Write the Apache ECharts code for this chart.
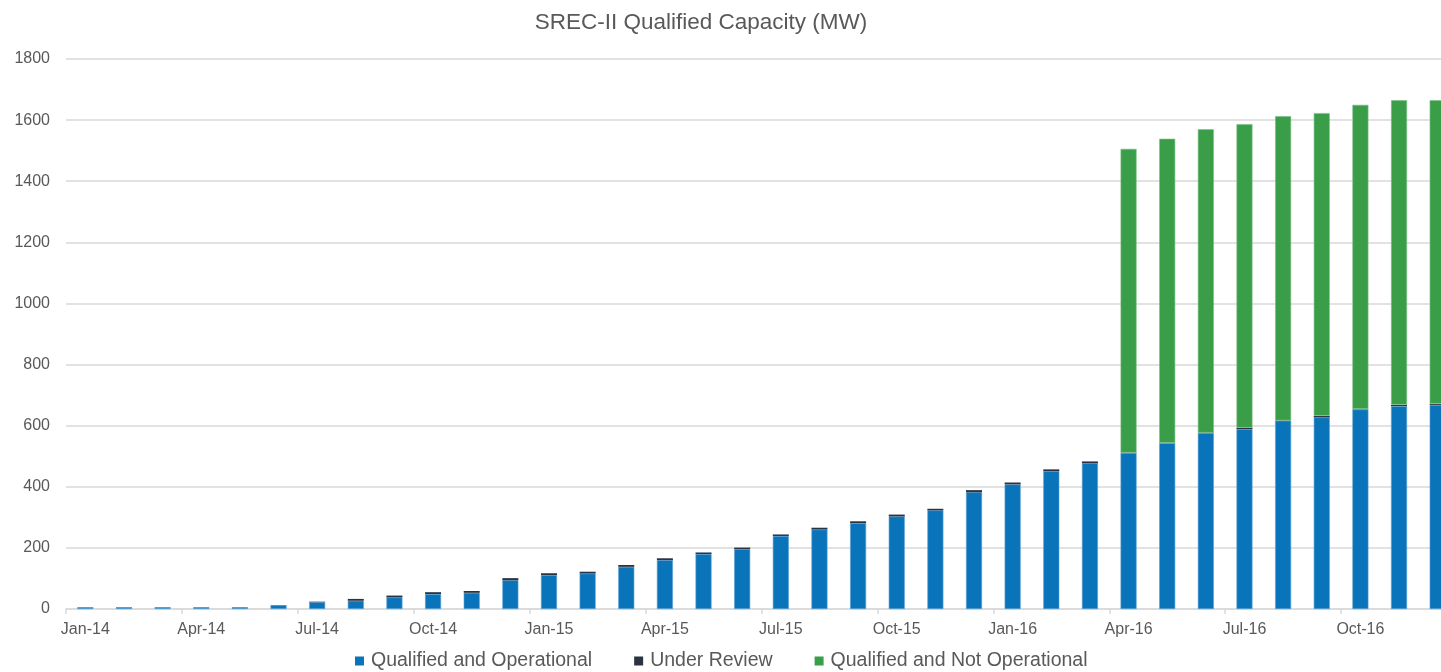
<!DOCTYPE html>
<html>
<head>
<meta charset="utf-8">
<script src="https://cdn.jsdelivr.net/npm/echarts@6/dist/echarts.min.js"></script>
<style>
html,body{margin:0;padding:0;background:#fff;}
#chart{width:1441px;height:672px;}
</style>
</head>
<body>
<div id="chart"></div>
<script>
const categories = [
  'Jan-14','Feb-14','Mar-14','Apr-14','May-14','Jun-14','Jul-14','Aug-14','Sep-14','Oct-14','Nov-14','Dec-14',
  'Jan-15','Feb-15','Mar-15','Apr-15','May-15','Jun-15','Jul-15','Aug-15','Sep-15','Oct-15','Nov-15','Dec-15',
  'Jan-16','Feb-16','Mar-16','Apr-16','May-16','Jun-16','Jul-16','Aug-16','Sep-16','Oct-16','Nov-16','Dec-16'
];
const qualifiedOperational = [
  5, 5, 5, 5, 5, 12, 22, 27, 38, 49, 53, 94,
  111, 116, 138, 160, 180, 196, 239, 260, 281, 303, 323, 382,
  408, 451, 477, 511, 543, 576, 589, 616, 627, 653, 664, 668
];
const underReview = [
  1, 1, 1, 1, 1, 1, 2, 6, 6, 6, 6, 7,
  6, 6, 6, 6, 5, 5, 5, 6, 6, 6, 5, 7,
  6, 6, 6, 1, 1, 1, 4, 1, 5, 1, 4, 4
];
const qualifiedNotOperational = [
  0, 0, 0, 0, 0, 0, 0, 0, 0, 0, 0, 0,
  0, 0, 0, 0, 0, 0, 0, 0, 0, 0, 0, 0,
  0, 0, 0, 994, 995, 993, 994, 996, 991, 996, 997, 993
];
const seriesNames = ['Qualified and Operational', 'Under Review', 'Qualified and Not Operational'];
const titleText = 'SREC-II Qualified Capacity (MW)';

const colors = ['#0a74bb', '#2b3342', '#3a9e48'];
const borders = ['#5a9fd3', '#2b3342', '#7cc086'];
const borderWidths = [0.6, 0, 0.6];
const chart = echarts.init(document.getElementById('chart'), null, {renderer: 'canvas'});
const dataSets = [qualifiedOperational, underReview, qualifiedNotOperational]
  .map(arr => arr.map(v => (v === 0 ? '-' : v)));
chart.setOption({
  animation: false,
  backgroundColor: '#ffffff',
  title: {
    text: titleText,
    left: 696,
    top: 6,
    textAlign: 'center',
    textStyle: {fontFamily: 'Liberation Sans, Arial, sans-serif', fontSize: 22.5, fontWeight: 'normal', color: '#595959'}
  },
  legend: {
    data: seriesNames,
    top: 646,
    left: 350,
    icon: 'rect',
    itemWidth: 9,
    itemHeight: 9,
    itemGap: 42,
    itemStyle: {borderWidth: 0},
    textStyle: {fontFamily: 'Liberation Sans, Arial, sans-serif', fontSize: 19.5, color: '#595959', padding: [0, 0, 0, 2]}
  },
  grid: {left: 66, top: 59, bottom: 63, width: 1391, containLabel: false, outerBoundsMode: 'none'},
  xAxis: {
    type: 'category',
    data: categories,
    boundaryGap: true,
    axisLine: {lineStyle: {color: '#d9d9d9', width: 1.5}},
    axisTick: {show: true, interval: 2, length: 5, lineStyle: {color: '#d9d9d9', width: 1.5}},
    axisLabel: {interval: 2, margin: 13, fontFamily: 'Liberation Sans, Arial, sans-serif', fontSize: 16, color: '#595959'}
  },
  yAxis: {
    type: 'value',
    min: 0,
    max: 1800,
    interval: 200,
    axisLine: {show: false},
    axisTick: {show: false},
    splitLine: {lineStyle: {color: '#d9d9d9', width: 1.5}},
    axisLabel: {margin: 16, formatter: v => String(v), fontFamily: 'Liberation Sans, Arial, sans-serif', fontSize: 16, color: '#595959'}
  },
  series: seriesNames.map((name, i) => ({
    name: name,
    type: 'bar',
    stack: 'total',
    barWidth: 16,
    data: dataSets[i],
    itemStyle: {color: colors[i], borderColor: borders[i], borderWidth: borderWidths[i]}
  }))
});
</script>
</body>
</html>
